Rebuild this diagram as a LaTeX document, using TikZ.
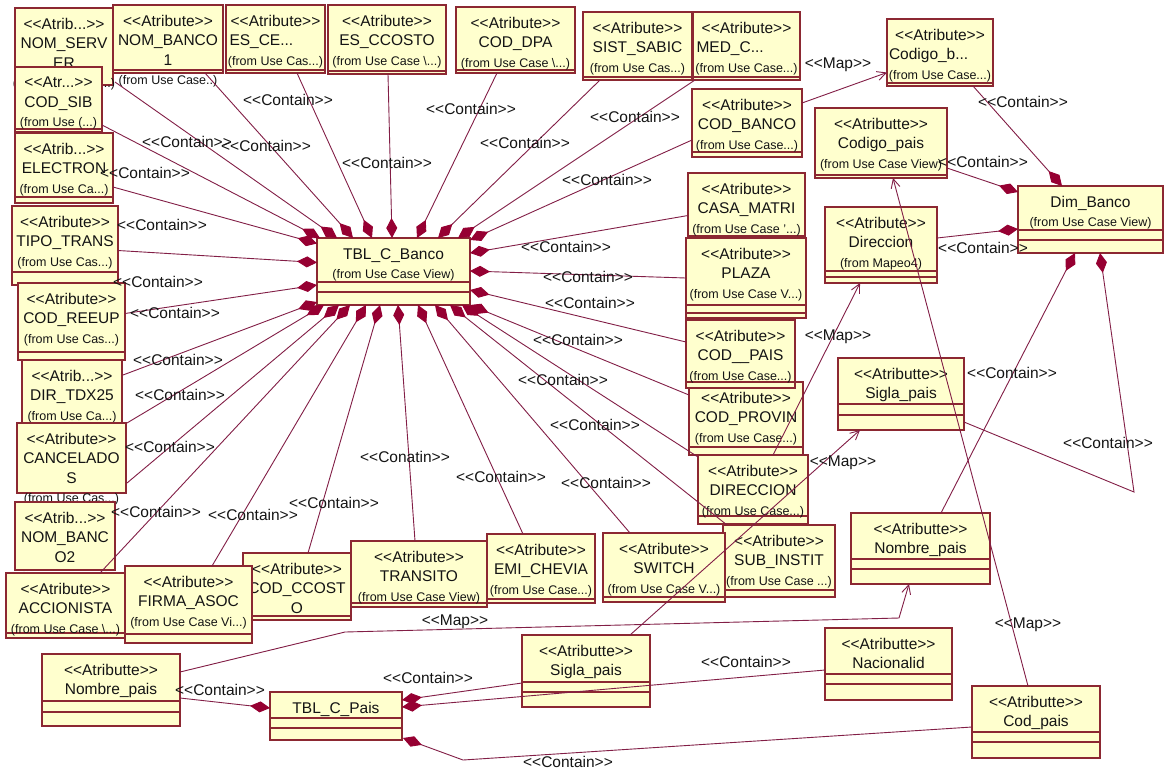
\documentclass[tikz,border=0pt]{standalone}
\usepackage{fontspec}
\setmainfont{Liberation Sans}
\usetikzlibrary{arrows.meta}

\definecolor{clsfill}{RGB}{255,255,206}
\definecolor{clsedge}{RGB}{140,40,50}
\definecolor{wire}{RGB}{130,30,70}
\definecolor{diam}{RGB}{150,0,50}
\definecolor{ink}{RGB}{20,20,20}

% stereotype brackets without ligatures, and the small "(from ...)" line
\newcommand\st[1]{<{}<#1>{}>}
\newcommand\fr[1]{{\fontsize{12.5}{19.5}\selectfont #1}}

\tikzset{
  cls/.style={draw=clsedge, fill=clsfill, line width=1.3pt, rectangle, inner sep=0pt, outer sep=0pt},
  clstxt/.style={anchor=north, inner sep=0pt, align=center, text=ink, font=\fontsize{15.5}{19.5}\selectfont},
  sepline/.style={draw=clsedge, line width=1.1pt},
  contain/.style={draw=wire, line width=0.9pt, -{Diamond[length=20pt,width=11pt,color=diam,fill=diam]}},
  mapto/.style={draw=wire, line width=0.9pt, -{Straight Barb[length=9pt,width=9pt]}},
  lbl/.style={inner sep=0pt, text=ink, font=\fontsize{15.5}{19.5}\selectfont},
}

% class box: name, x1, y1, x2, y2, compartment lines, text
\newcommand\abox[7]{%
  \node[cls, minimum width={(#4-#2)*1pt}, minimum height={(#5-#3)*1pt}, anchor=north west] (#1) at (#2,#3) {};
  \foreach \s in {#6} {\draw[sepline] (#2,\s) -- (#4,\s);}
  \node[clstxt] (#1-t) at ({(#2+#4)/2},{#3+10}) {#7};
}

\begin{document}
\begin{tikzpicture}[x=1pt,y=-1pt]
\useasboundingbox (0,0) rectangle (1166,769);
\fill[white] (0,0) rectangle (1166,769);

% ---- attributes of TBL_C_Banco: top row ----
\abox{nomserver}{15}{8}{113}{85}{85}{\st{Atrib...}\\NOM\_SERV\\ER\\\fr{(from Use Case...)}}
\abox{nombanco1}{113}{5}{223}{73}{70}{\st{Atribute}\\NOM\_BANCO\\1\\\fr{(from Use Case..)}}
\abox{esce}{226}{5}{325}{73}{70}{\st{Atribute}\\\makebox[92pt][l]{ES\_CE...}\\\fr{(from Use Cas...)}}
\abox{esccosto}{328}{5}{446}{74}{71}{\st{Atribute}\\ES\_CCOSTO\\\fr{(from Use Case \textbackslash...)}}
\abox{coddpa}{456}{7}{575}{73}{70}{\st{Atribute}\\COD\_DPA\\\fr{(from Use Case \textbackslash...)}}
\abox{sistsabic}{583}{12}{692}{80}{77}{\st{Atribute}\\SIST\_SABIC\\\fr{(from Use Cas...)}}
\abox{medc}{693}{12}{800}{80}{77}{\st{Atribute}\\\makebox[100pt][l]{MED\_C...}\\\fr{(from Use Case...)}}

% ---- right column ----
\abox{codbanco}{692}{89}{802}{157}{152}{\st{Atribute}\\COD\_BANCO\\\fr{(from Use Case...)}}
\abox{casamatri}{688}{173}{805}{240}{236}{\st{Atribute}\\CASA\_MATRI\\\fr{(from Use Case '...)}}
\abox{plaza}{686}{238}{806}{318}{305,313}{\st{Atribute}\\PLAZA\\\fr{(from Use Case V...)}}
\abox{codprovin}{689}{382}{803}{455}{447}{\st{Atribute}\\COD\_PROVIN\\\fr{(from Use Case...)}}
\abox{codpais}{686}{320}{795}{388}{382}{\st{Atribute}\\COD\_\_PAIS\\\fr{(from Use Case...)}}
\abox{direccion}{698}{455}{808}{524}{516}{\st{Atribute}\\DIRECCION\\\fr{(from Use Case...)}}

% ---- bottom row ----
\abox{subinstit}{723}{525}{835}{597}{590}{\st{Atribute}\\SUB\_INSTIT\\\fr{(from Use Case ...)}}
\abox{switch}{603}{533}{725}{602}{597}{\st{Atribute}\\SWITCH\\\fr{(from Use Case V...)}}
\abox{emichevia}{487}{534}{595}{603}{599}{\st{Atribute}\\EMI\_CHEVIA\\\fr{(from Use Case...)}}

% ---- left column ----
\abox{codsib}{15}{67}{102}{132}{129}{\st{Atr...}\\COD\_SIB\\\fr{(from Use (...)}}
\abox{electron}{15}{133}{113}{203}{197}{\st{Atrib...}\\ELECTRON\\\fr{(from Use Ca...)}}
\abox{tipotrans}{12}{206}{118}{285}{272}{\st{Atribute}\\TIPO\_TRANS\\\fr{(from Use Cas...)}}
\abox{codreeup}{18}{283}{125}{360}{352}{\st{Atribute}\\COD\_REEUP\\\fr{(from Use Cas...)}}
\abox{dirtdx25}{22}{360}{122}{423}{423}{\st{Atrib...}\\DIR\_TDX25\\\fr{(from Use Ca...)}}
\abox{cancelados}{17}{423}{126}{493}{493}{\st{Atribute}\\CANCELADO\\S\\\fr{(from Use Cas...)}}
\abox{nombanco2}{15}{502}{115}{570}{570}{\st{Atrib...}\\NOM\_BANC\\O2\\\fr{(from Use Ca...)}}
\abox{accionista}{6}{573}{125}{638}{633}{\st{Atribute}\\ACCIONISTA\\\fr{(from Use Case \textbackslash...)}}
\abox{codccosto}{243}{553}{351}{620}{616}{\st{Atribute}\\COD\_CCOST\\O}
\abox{firmaasoc}{125}{566}{252}{643}{634}{\st{Atribute}\\FIRMA\_ASOC\\\fr{(from Use Case Vi...)}}
\abox{transito}{351}{541}{487}{607}{603}{\st{Atribute}\\TRANSITO\\\fr{(from Use Case View)}}

% ---- main tables ----
\abox{tblbanco}{317}{238}{470}{305}{282,292}{TBL\_C\_Banco\\\fr{(from Use Case View)}}
\abox{dimbanco}{1018}{186}{1163}{253}{230,240}{Dim\_Banco\\\fr{(from Use Case View)}}
\abox{tblpais}{270}{692}{402}{740}{718,728}{TBL\_C\_Pais}

% ---- dimension attributes ----
\abox{codigob}{887}{19}{993}{86}{83}{\st{Atribute}\\\makebox[102pt][l]{Codigo\_b...}\\\fr{(from Use Case...)}}
\abox{codigopais}{815}{108}{947}{178}{175}{\st{Atributte}\\Codigo\_pais\\\fr{(from Use Case View)}}
\abox{direccionm}{825}{207}{937}{283}{271,277}{\st{Atribute}\\Direccion\\\fr{(from Mapeo4)}}
\abox{siglaR}{838}{358}{964}{430}{404,415}{\st{Atributte}\\Sigla\_pais}
\abox{nombreR}{851}{513}{990}{584}{559,569}{\st{Atributte}\\Nombre\_pais}
\abox{nacionalid}{825}{628}{952}{700}{674,684}{\st{Atributte}\\Nacionalid}
\abox{codpaisR}{972}{686}{1100}{758}{732,742}{\st{Atributte}\\Cod\_pais}
\abox{nombreL}{42}{654}{180}{726}{701,712}{\st{Atributte}\\Nombre\_pais}
\abox{siglaB}{522}{635}{650}{707}{682,692}{\st{Atributte}\\Sigla\_pais}

% ---- containment of TBL_C_Banco ----
\draw[contain] ([shift={(0,-7)}]codsib.south east) -- ([shift={(3,0)}]tblbanco.north west);
\draw[contain] ([shift={(2,-3)}]nomserver.south east) -- ([shift={(20,0)}]tblbanco.north west);
\draw[contain] ([shift={(-18,0)}]nombanco1.south east) -- ([shift={(36,0)}]tblbanco.north west);
\draw[contain] ([shift={(-28,0)}]esce.south east) -- ([shift={(55,0)}]tblbanco.north west);
\draw[contain] ([shift={(1,0)}]esccosto.south) -- ([shift={(75,0)}]tblbanco.north west);
\draw[contain] ([shift={(41,0)}]coddpa.south west) -- ([shift={(100,0)}]tblbanco.north west);
\draw[contain] ([shift={(17,0)}]sistsabic.south west) -- ([shift={(121,0)}]tblbanco.north west);
\draw[contain] ([shift={(2,0)}]medc.south west) -- ([shift={(141,0)}]tblbanco.north west);
\draw[contain] ([shift={(0,17)}]codbanco.west) -- ([shift={(0,2)}]tblbanco.north east);
\draw[contain] ([shift={(0,9)}]casamatri.west) -- ([shift={(0,15)}]tblbanco.north east);
\draw[contain] (plaza.west) -- ([shift={(0,33)}]tblbanco.north east);
\draw[contain] ([shift={(0,-12)}]codpais.west) -- ([shift={(0,52)}]tblbanco.north east);
\draw[contain] ([shift={(0,13)}]codprovin.north west) -- (tblbanco.south east);
\draw[contain] ([shift={(0,2)}]direccion.north west) -- ([shift={(-8,0)}]tblbanco.south east);
\draw[contain] ([shift={(4,0)}]subinstit.north west) -- ([shift={(-20,0)}]tblbanco.south east);
\draw[contain] ([shift={(27,0)}]switch.north west) -- ([shift={(-35,0)}]tblbanco.south east);
\draw[contain] ([shift={(36,0)}]emichevia.north west) -- ([shift={(-52,0)}]tblbanco.south east);
\draw[contain] ([shift={(64,0)}]transito.north west) -- ([shift={(81,0)}]tblbanco.south west);
\draw[contain] ([shift={(65,0)}]codccosto.north west) -- ([shift={(63,0)}]tblbanco.south west);
\draw[contain] ([shift={(87,0)}]firmaasoc.north west) -- ([shift={(49,0)}]tblbanco.south west);
\draw[contain] ([shift={(94,0)}]accionista.north west) -- ([shift={(33,0)}]tblbanco.south west);
\draw[contain] ([shift={(1,-10)}]cancelados.south east) -- ([shift={(22,0)}]tblbanco.south west);
\draw[contain] ([shift={(1,0)}]cancelados.north east) -- ([shift={(7,0)}]tblbanco.south west);
\draw[contain] ([shift={(1,15)}]dirtdx25.north east) -- ([shift={(0,-3)}]tblbanco.south west);
\draw[contain] ([shift={(0,-8)}]codreeup.east) -- ([shift={(0,13.5)}]tblbanco.west);
\draw[contain] ([shift={(0,5)}]tipotrans.east) -- ([shift={(0,-9)}]tblbanco.west);
\draw[contain] ([shift={(0,19)}]electron.east) -- ([shift={(0,-28)}]tblbanco.west);

% ---- containment of Dim_Banco ----
\coordinate (bend1) at (1134,492);
\draw[contain] ([shift={(-20,0)}]codigob.south east) -- ([shift={(44,0)}]dimbanco.north west);
\draw[contain] ([shift={(0,-10)}]codigopais.south east) -- ([shift={(0,6)}]dimbanco.north west);
\draw[contain] ([shift={(0,-7)}]direccionm.east) -- ([shift={(0,43)}]dimbanco.north west);
\draw[contain] ([shift={(90,0)}]nombreR.north west) -- ([shift={(57,0)}]dimbanco.south west);
\draw[contain] ([shift={(0,-8)}]siglaR.south east) -- (bend1) -- ([shift={(82,0)}]dimbanco.south west);

% ---- containment of TBL_C_Pais ----
\coordinate (m3) at (463,760);
\draw[contain] ([shift={(0,8)}]nombreL.east) -- ([shift={(0,-8)}]tblpais.west);
\draw[contain] ([shift={(0,12)}]siglaB.west) -- ([shift={(0,8)}]tblpais.north east);
\draw[contain] ([shift={(0,6)}]nacionalid.west) -- ([shift={(0,15)}]tblpais.north east);
\draw[contain] ([shift={(0,5)}]codpaisR.west) -- (m3) -- ([shift={(1,-2)}]tblpais.south east);

% ---- mappings ----
\coordinate (m1) at (345,632);
\coordinate (m2) at (899,618);
\draw[mapto] ([shift={(0,14)}]codbanco.north east) -- ([shift={(0,20)}]codigob.west);
\draw[mapto] ([shift={(75,0)}]direccion.north west) -- ([shift={(35,0)}]direccionm.south west);
\draw[mapto] ([shift={(108,0)}]siglaB.north west) -- ([shift={(22,0)}]siglaR.south west);
\draw[mapto] ([shift={(0,18)}]nombreL.north east) -- (m1) -- (m2) -- ([shift={(58,0)}]nombreR.south west);
\draw[mapto] ([shift={(56,0)}]codpaisR.north west) -- ([shift={(78,0)}]codigopais.south west);

% ---- stereotype labels ----
\node[lbl] (l1) at (288,100) {\st{Contain}};
\node[lbl] (l2) at (187,142) {\st{Contain}};
\node[lbl] (l3) at (266,146) {\st{Contain}};
\node[lbl] (l4) at (145,173) {\st{Contain}};
\node[lbl] (l5) at (387,163) {\st{Contain}};
\node[lbl] (l6) at (471,109) {\st{Contain}};
\node[lbl] (l7) at (525,143) {\st{Contain}};
\node[lbl] (l8) at (635,117) {\st{Contain}};
\node[lbl] (l9) at (607,180) {\st{Contain}};
\node[lbl] (l10) at (566,247) {\st{Contain}};
\node[lbl] (l11) at (588,277) {\st{Contain}};
\node[lbl] (l12) at (590,303) {\st{Contain}};
\node[lbl] (l13) at (578,340) {\st{Contain}};
\node[lbl] (l14) at (563,380) {\st{Contain}};
\node[lbl] (l15) at (595,425) {\st{Contain}};
\node[lbl] (l16) at (606,483) {\st{Contain}};
\node[lbl] (l17) at (501,477) {\st{Contain}};
\node[lbl] (l18) at (405,457) {\st{Conatin}};
\node[lbl] (l19) at (334,503) {\st{Contain}};
\node[lbl] (l20) at (253,515) {\st{Contain}};
\node[lbl] (l21) at (156,512) {\st{Contain}};
\node[lbl] (l22) at (170,447) {\st{Contain}};
\node[lbl] (l23) at (180,395) {\st{Contain}};
\node[lbl] (l24) at (178,360) {\st{Contain}};
\node[lbl] (l25) at (175,313) {\st{Contain}};
\node[lbl] (l26) at (158,282) {\st{Contain}};
\node[lbl] (l27) at (162,225) {\st{Contain}};
\node[lbl] (l28) at (1023,102) {\st{Contain}};
\node[lbl] (l29) at (983,162) {\st{Contain}};
\node[lbl] (l30) at (983,248) {\st{Contain}};
\node[lbl] (l31) at (1012,373) {\st{Contain}};
\node[lbl] (l32) at (1108,443) {\st{Contain}};
\node[lbl] (l33) at (220,690) {\st{Contain}};
\node[lbl] (l34) at (428,678) {\st{Contain}};
\node[lbl] (l35) at (746,662) {\st{Contain}};
\node[lbl] (l36) at (568,762) {\st{Contain}};
\node[lbl] (p1) at (838,65) {\st{Map}};
\node[lbl] (p2) at (838,337) {\st{Map}};
\node[lbl] (p3) at (843,463) {\st{Map}};
\node[lbl] (p4) at (1028,625) {\st{Map}};
\node[lbl] (p5) at (455,622) {\st{Map}};
\end{tikzpicture}
\end{document}
